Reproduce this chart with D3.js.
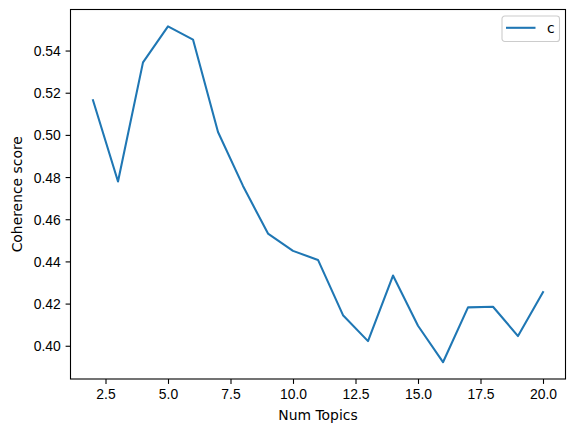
<!DOCTYPE html>
<html>
<head>
<meta charset="utf-8">
<script src="https://cdn.jsdelivr.net/npm/d3@7"></script>
<style>
  body { margin: 0; background: #fff; }
  svg { display: block; font-family: "DejaVu Sans", sans-serif; }
  .axis text { font-size: 13.9px; fill: #000; }
  .axis path, .axis line { stroke: #000; stroke-width: 1.1px; }
</style>
</head>
<body>
<div id="chart"></div>
<script>
// datos
var num_topics = [2, 3, 4, 5, 6, 7, 8, 9, 10, 11, 12, 13, 14, 15, 16, 17, 18, 19, 20];
var coherence = [0.5164, 0.4779, 0.5344, 0.5515, 0.5452, 0.5014, 0.4758, 0.4532, 0.4450,
                 0.4407, 0.4145, 0.4022, 0.4333, 0.4095, 0.3922, 0.4182, 0.4185, 0.4046, 0.4254];
var x_ticks = [2.5, 5.0, 7.5, 10.0, 12.5, 15.0, 17.5, 20.0];
var y_ticks = [0.40, 0.42, 0.44, 0.46, 0.48, 0.50, 0.52, 0.54];
var legend_labels = ["c"];

var svg_w = 576, svg_h = 432;
// ojo: "top" choca con window.top
var ax_left = 70.5, ax_right = 565.5, ax_top = 9.5, ax_bottom = 379;

var svg = d3.select("#chart").append("svg")
  .attr("width", svg_w)
  .attr("height", svg_h);

// escalas (margenes de 5% como matplotlib)
var xmin = d3.min(num_topics), xmax = d3.max(num_topics);
var xpad = (xmax - xmin) * 0.05;
var x = d3.scaleLinear()
  .domain([xmin - xpad, xmax + xpad])
  .range([ax_left, ax_right]);

var ymin = d3.min(coherence), ymax = d3.max(coherence);
var ypad = (ymax - ymin) * 0.05;
var y = d3.scaleLinear()
  .domain([ymin - ypad, ymax + ypad])
  .range([ax_bottom, ax_top]);

// ejes
var x_axis = d3.axisBottom(x)
  .tickValues(x_ticks)
  .tickFormat(d3.format(".1f"))
  .tickSizeInner(4.9)
  .tickSizeOuter(0)
  .tickPadding(4.9);

var y_axis = d3.axisLeft(y)
  .tickValues(y_ticks)
  .tickFormat(d3.format(".2f"))
  .tickSizeInner(4.9)
  .tickSizeOuter(0)
  .tickPadding(4.9);

svg.append("g")
  .attr("class", "axis")
  .attr("transform", "translate(0," + ax_bottom + ")")
  .call(x_axis)
  .call(function(g) { g.select(".domain").remove(); });

svg.append("g")
  .attr("class", "axis")
  .attr("transform", "translate(" + ax_left + ",0)")
  .call(y_axis)
  .call(function(g) { g.select(".domain").remove(); })
  .selectAll("text").attr("dy", "0.36em");

// la linea
var line = d3.line()
  .x(function(d) { return x(d[0]); })
  .y(function(d) { return y(d[1]); });

svg.append("path")
  .datum(d3.zip(num_topics, coherence))
  .attr("fill", "none")
  .attr("stroke", "#1f77b4")
  .attr("stroke-width", 2.08)
  .attr("stroke-linejoin", "round")
  .attr("stroke-linecap", "square")
  .attr("d", line);

// marco
svg.append("rect")
  .attr("x", ax_left)
  .attr("y", ax_top)
  .attr("width", ax_right - ax_left)
  .attr("height", ax_bottom - ax_top)
  .attr("fill", "none")
  .attr("stroke", "#000")
  .attr("stroke-width", 1.1);

// titulos de ejes
svg.append("text")
  .attr("x", (ax_left + ax_right) / 2)
  .attr("y", 420)
  .attr("text-anchor", "middle")
  .style("font-size", "13.9px")
  .text("Num Topics");

svg.append("text")
  .attr("transform", "translate(21.5," + ((ax_top + ax_bottom) / 2) + ") rotate(-90)")
  .attr("text-anchor", "middle")
  .style("font-size", "13.9px")
  .text("Coherence score");

// leyenda
var legend = svg.append("g")
  .attr("transform", "translate(502,16)");

legend.append("rect")
  .attr("width", 57.5)
  .attr("height", 25.5)
  .attr("rx", 2.8)
  .attr("fill", "#fff")
  .attr("fill-opacity", 0.8)
  .attr("stroke", "#cccccc")
  .attr("stroke-width", 1.1);

legend.append("line")
  .attr("x1", 4)
  .attr("x2", 33.5)
  .attr("y1", 11.8)
  .attr("y2", 11.8)
  .attr("stroke", "#1f77b4")
  .attr("stroke-width", 2.08);

legend.append("text")
  .attr("x", 45)
  .attr("y", 16.8)
  .style("font-size", "13.9px")
  .text(legend_labels[0]);
</script>
</body>
</html>
